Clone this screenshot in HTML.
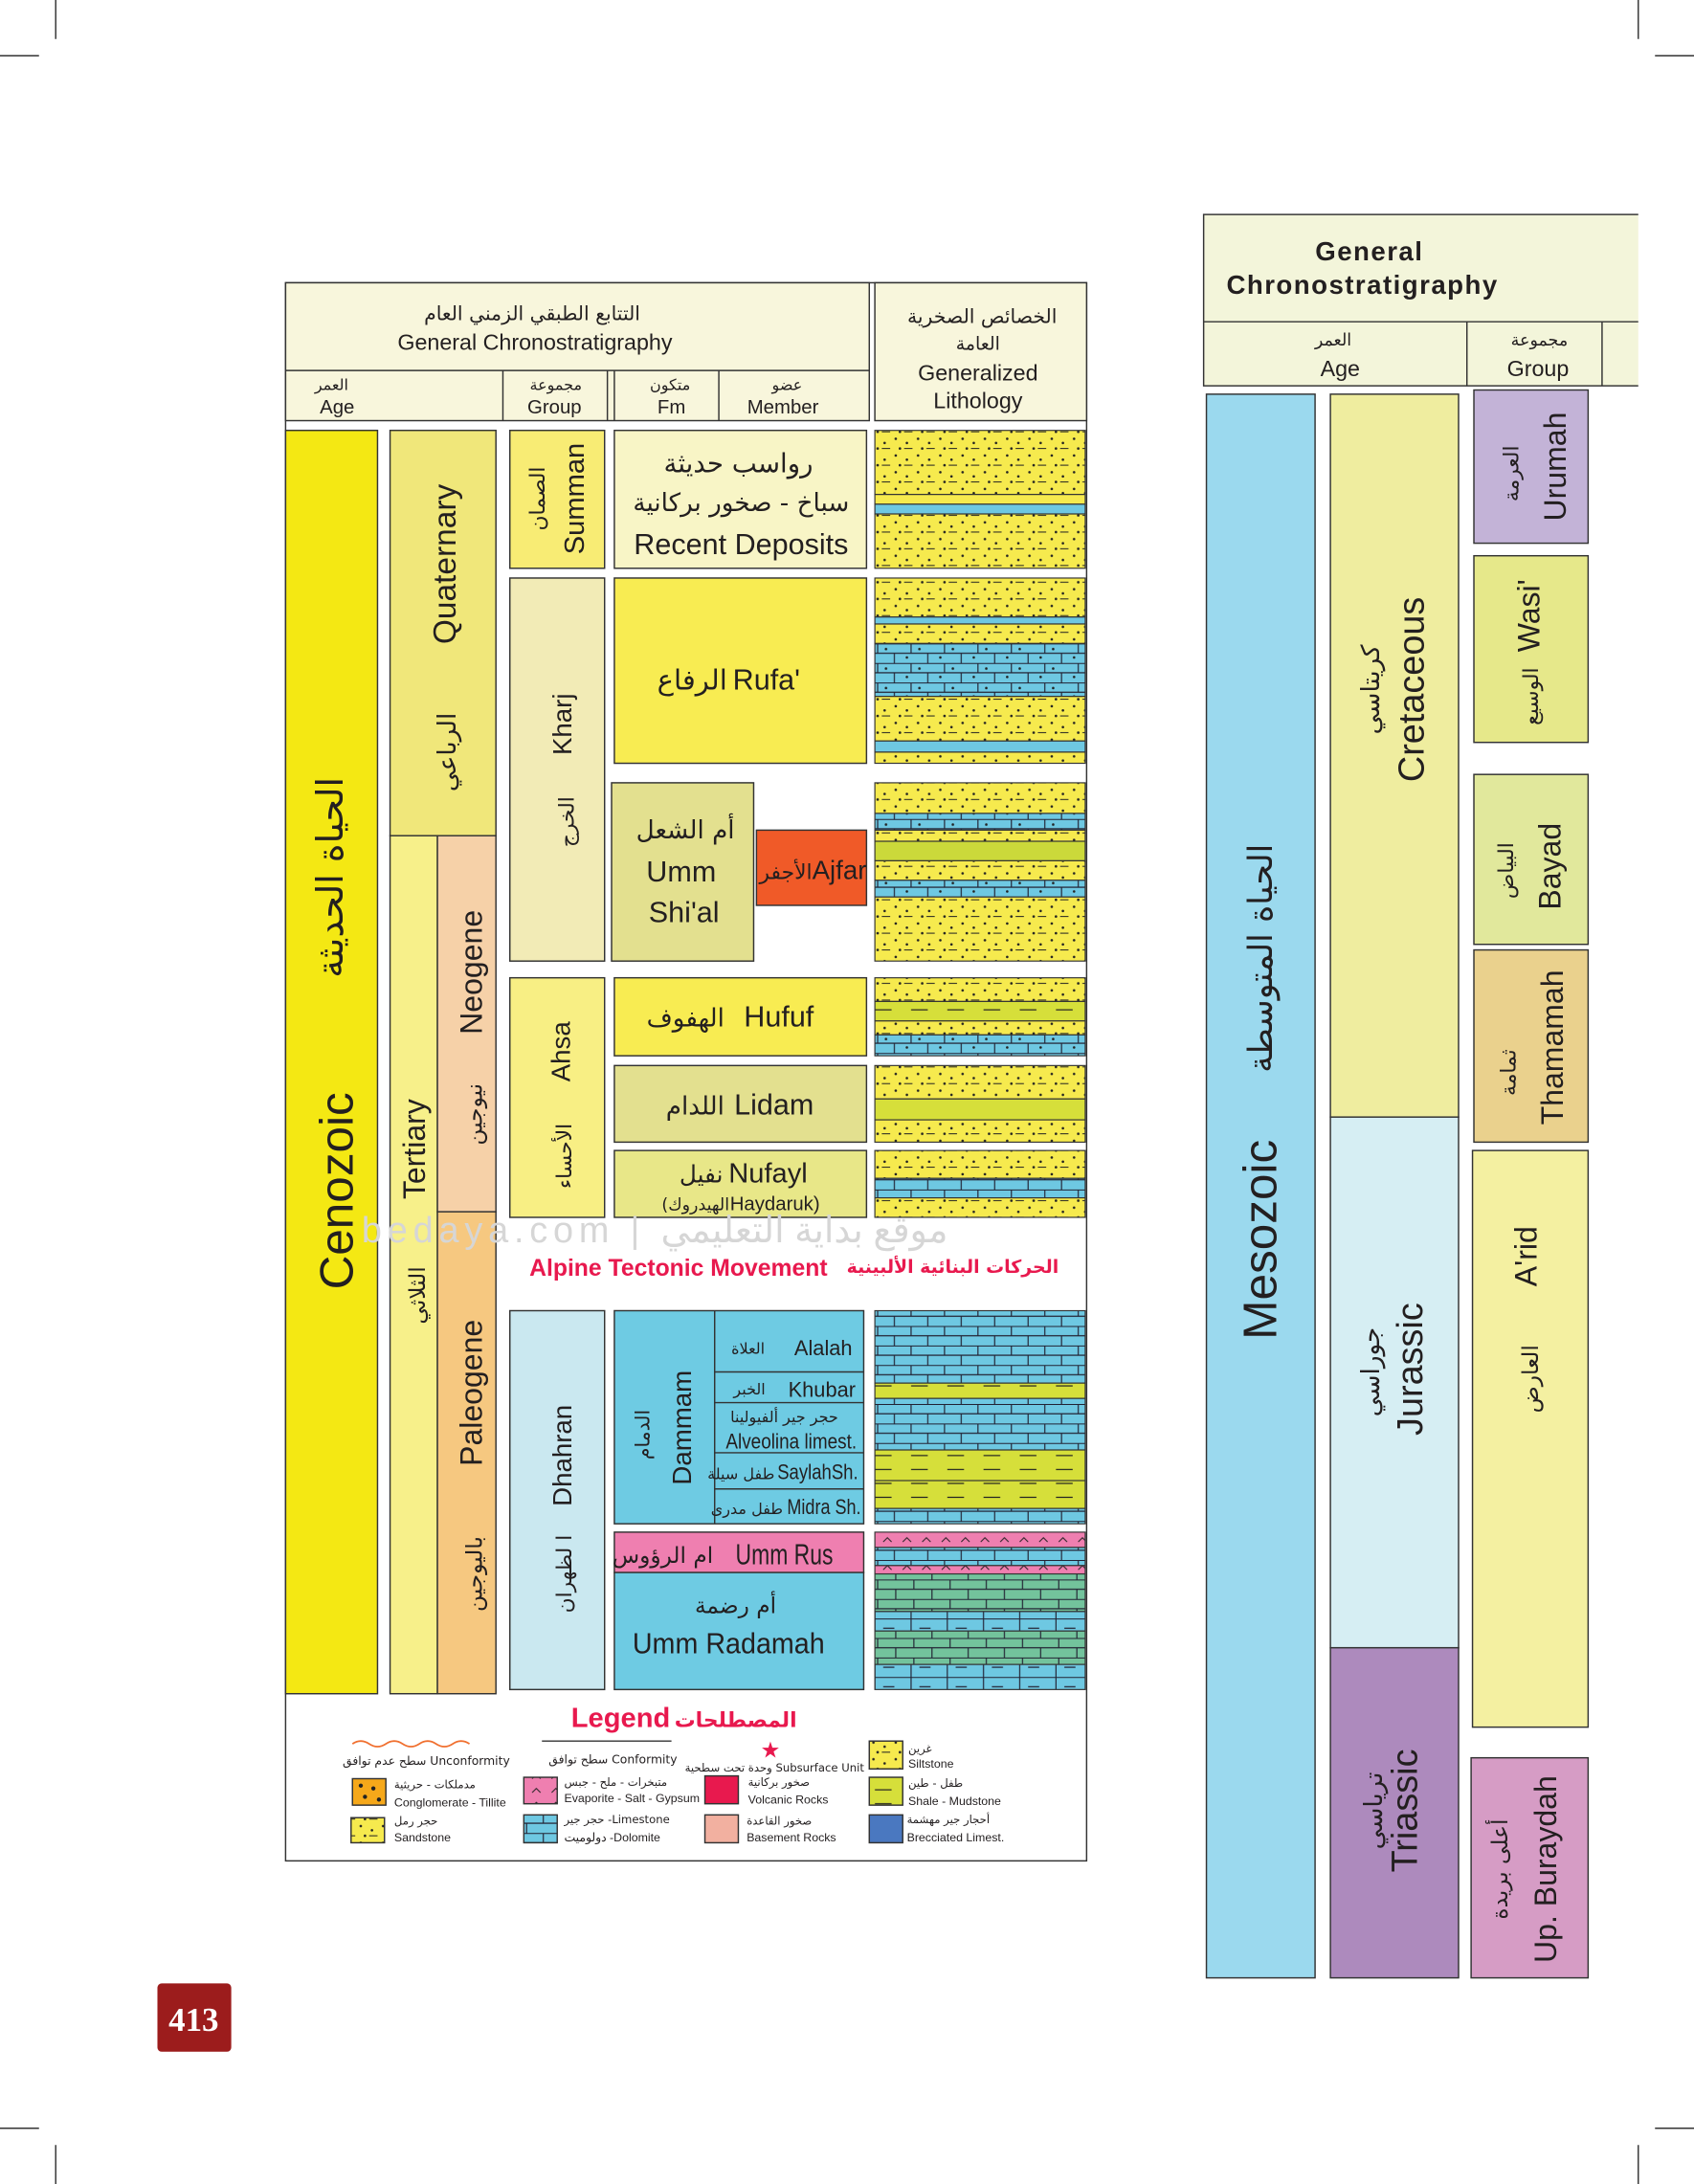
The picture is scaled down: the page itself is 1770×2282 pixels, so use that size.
<!DOCTYPE html>
<html><head><meta charset="utf-8"><style>
html,body{margin:0;padding:0;background:#fff;}
svg{display:block}
text{font-family:"Liberation Sans","Noto Sans CJK SC",sans-serif;fill:#231f20}
.n{font-family:"Liberation Sans Narrow","Liberation Sans","Noto Sans CJK SC",sans-serif}
.ar{font-family:"DejaVu Sans","Noto Sans CJK SC",sans-serif}
</style></head><body>
<svg width="1770" height="2282" viewBox="0 0 1216 1568" preserveAspectRatio="none" xmlns="http://www.w3.org/2000/svg">
<defs>
<pattern id="sand" width="16" height="12" patternUnits="userSpaceOnUse">
<rect width="16" height="12" fill="#f6ea4e"/>
<circle cx="3" cy="3" r="0.9" fill="#222"/><circle cx="11" cy="6" r="0.9" fill="#222"/><circle cx="6" cy="10" r="0.9" fill="#222"/>
<line x1="9" y1="10" x2="15" y2="10" stroke="#222" stroke-width="0.7"/>
</pattern>
<pattern id="lime" width="24" height="14" patternUnits="userSpaceOnUse">
<rect width="24" height="14" fill="#6ec8e2"/>
<path d="M0 0.3H24M0 7H24M6 0V7M18 7V14" stroke="#223" stroke-width="0.8" fill="none"/>
</pattern>
<pattern id="limedot" width="24" height="14" patternUnits="userSpaceOnUse">
<rect width="24" height="14" fill="#6ec8e2"/>
<path d="M0 0.3H24M0 7H24M6 0V7M18 7V14" stroke="#223" stroke-width="0.8" fill="none"/>
<circle cx="12" cy="4" r="0.9" fill="#222"/><circle cx="3" cy="10" r="0.9" fill="#222"/>
</pattern>
<pattern id="shale" width="26" height="10" patternUnits="userSpaceOnUse">
<rect width="26" height="10" fill="#d6df3a"/>
<line x1="4" y1="5" x2="16" y2="5" stroke="#222" stroke-width="0.8"/>
</pattern>
<pattern id="green" width="26" height="14" patternUnits="userSpaceOnUse">
<rect width="26" height="14" fill="#73c39c"/>
<path d="M0 0.3H26M0 7H26M6 0V7M19 7V14" stroke="#223" stroke-width="0.8" fill="none"/>
</pattern>
<pattern id="bluedash" width="26" height="14" patternUnits="userSpaceOnUse">
<rect width="26" height="14" fill="#6ec8e2"/>
<path d="M0 0.3H26M4 0V14M10 7H18" stroke="#223" stroke-width="0.8" fill="none"/>
</pattern>
<pattern id="pink" width="14" height="10" patternUnits="userSpaceOnUse">
<rect width="14" height="10" fill="#ef7fb0"/>
<path d="M4 7L7 4L10 7" stroke="#222" stroke-width="0.7" fill="none"/>
</pattern>
</defs>

<g stroke="#333" stroke-width="1">
<line x1="40" y1="0" x2="40" y2="28"/><line x1="0" y1="40" x2="28" y2="40"/>
<line x1="1176" y1="0" x2="1176" y2="28"/><line x1="1188" y1="40" x2="1216" y2="40"/>
<line x1="40" y1="1540" x2="40" y2="1568"/><line x1="0" y1="1528" x2="28" y2="1528"/>
<line x1="1176" y1="1540" x2="1176" y2="1568"/><line x1="1188" y1="1528" x2="1216" y2="1528"/>
</g>

<rect x="205" y="203" width="575" height="1133" fill="#fff" stroke="#333" stroke-width="1"/>
<rect x="205" y="203" width="419" height="99" fill="#f8f6dc" stroke="#333"/>
<line x1="205" y1="266" x2="624" y2="266" stroke="#333"/>
<line x1="361" y1="266" x2="361" y2="302" stroke="#333"/>
<line x1="436" y1="266" x2="436" y2="302" stroke="#333"/>
<line x1="441" y1="266" x2="441" y2="302" stroke="#333"/>
<line x1="516" y1="266" x2="516" y2="302" stroke="#333"/>
<rect x="628" y="203" width="152" height="99" fill="#f8f6dc" stroke="#333"/>
<text x="382" y="230" font-size="14" text-anchor="middle" class="ar">التتابع الطبقي الزمني العام</text>
<text x="384" y="251" font-size="16" text-anchor="middle">General Chronostratigraphy</text>
<text x="238" y="280" font-size="11" text-anchor="middle" class="ar">العمر</text>
<text x="242" y="297" font-size="14" text-anchor="middle">Age</text>
<text x="399" y="280" font-size="11" text-anchor="middle" class="ar">مجموعة</text>
<text x="398" y="297" font-size="14" text-anchor="middle">Group</text>
<text x="481" y="280" font-size="11" text-anchor="middle" class="ar">متكون</text>
<text x="482" y="297" font-size="14" text-anchor="middle">Fm</text>
<text x="565" y="280" font-size="11" text-anchor="middle" class="ar">عضو</text>
<text x="562" y="297" font-size="14" text-anchor="middle">Member</text>
<text x="705" y="232" font-size="14" text-anchor="middle" class="ar">الخصائص الصخرية</text>
<text x="702" y="251" font-size="13" text-anchor="middle" class="ar">العامة</text>
<text x="702" y="273" font-size="16" text-anchor="middle">Generalized</text>
<text x="702" y="293" font-size="16" text-anchor="middle">Lithology</text>

<rect x="205" y="309" width="66" height="907" fill="#f4e813" stroke="#333"/>
<rect x="280" y="309" width="76" height="291" fill="#f0e77a" stroke="#333"/>
<rect x="280" y="600" width="34" height="616" fill="#f7f08a" stroke="#333"/>
<rect x="314" y="600" width="42" height="270" fill="#f6d1a8" stroke="#333"/>
<rect x="314" y="870" width="42" height="346" fill="#f6c880" stroke="#333"/>
<text transform="translate(253,855) rotate(-90)" font-size="34" text-anchor="middle">Cenozoic</text>
<text transform="translate(246,630) rotate(-90)" font-size="26" text-anchor="middle" class="ar">الحياة الحديثة</text>
<text transform="translate(327,405) rotate(-90)" font-size="23" text-anchor="middle">Quaternary</text>
<text transform="translate(327,540) rotate(-90)" font-size="18" text-anchor="middle" class="ar">الرباعي</text>
<text transform="translate(305,825) rotate(-90)" font-size="22" text-anchor="middle">Tertiary</text>
<text transform="translate(305,930) rotate(-90)" font-size="16" text-anchor="middle" class="ar">الثلاثي</text>
<text transform="translate(346,698) rotate(-90)" font-size="22" text-anchor="middle">Neogene</text>
<text transform="translate(346,800) rotate(-90)" font-size="16" text-anchor="middle" class="ar">نيوجين</text>
<text transform="translate(346,1000) rotate(-90)" font-size="22" text-anchor="middle">Paleogene</text>
<text transform="translate(346,1130) rotate(-90)" font-size="16" text-anchor="middle" class="ar">باليوجين</text>

<rect x="366" y="309" width="68" height="99" fill="#f8ec74" stroke="#333"/>
<rect x="366" y="415" width="68" height="275" fill="#f2ebb6" stroke="#333"/>
<rect x="366" y="702" width="68" height="172" fill="#f8ef84" stroke="#333"/>
<rect x="366" y="941" width="68" height="272" fill="#cae8f0" stroke="#333"/>
<text transform="translate(419,358) rotate(-90)" font-size="20" text-anchor="middle">Summan</text>
<text transform="translate(391,358) rotate(-90)" font-size="15" text-anchor="middle" class="ar">الصمان</text>
<text transform="translate(410,520) rotate(-90)" font-size="19" text-anchor="middle">Kharj</text>
<text transform="translate(412,590) rotate(-90)" font-size="15" text-anchor="middle" class="ar">الخرج</text>
<text transform="translate(409,755) rotate(-90)" font-size="19" text-anchor="middle">Ahsa</text>
<text transform="translate(410,830) rotate(-90)" font-size="15" text-anchor="middle" class="ar">الأحساء</text>
<text transform="translate(410,1045) rotate(-90)" font-size="19" text-anchor="middle">Dhahran</text>
<text transform="translate(410,1130) rotate(-90)" font-size="15" text-anchor="middle" class="ar">ا لظهران</text>

<rect x="441" y="309" width="181" height="99" fill="#f8f5c6" stroke="#333"/>
<text x="530" y="339" font-size="19" text-anchor="middle" class="ar">رواسب حديثة</text>
<text x="532" y="367" font-size="18" text-anchor="middle" class="ar">سباخ - صخور بركانية</text>
<text x="532" y="398" font-size="21" text-anchor="middle" class="n">Recent Deposits</text>
<rect x="441" y="415" width="181" height="133" fill="#f8ec52" stroke="#333"/>
<text x="522" y="495" font-size="20" text-anchor="end" class="ar">الرفاع</text>
<text x="526" y="495" font-size="21" class="n">Rufa'</text>
<rect x="439" y="562" width="102" height="128" fill="#e3e08f" stroke="#333"/>
<text x="492" y="602" font-size="18" text-anchor="middle" class="ar">أم الشعل</text>
<text x="489" y="633" font-size="21" text-anchor="middle">Umm</text>
<text x="491" y="662" font-size="21" text-anchor="middle">Shi'al</text>
<rect x="543" y="596" width="79" height="54" fill="#f05a28" stroke="#333"/>
<text x="583" y="631" font-size="15" text-anchor="end" class="ar">الأجفر</text>
<text x="583" y="631" font-size="19" class="n">Ajfar</text>
<rect x="441" y="702" width="181" height="56" fill="#f8ec52" stroke="#333"/>
<text x="520" y="737" font-size="18" text-anchor="end" class="ar">الهفوف</text>
<text x="534" y="737" font-size="21" class="n">Hufuf</text>
<rect x="441" y="765" width="181" height="55" fill="#e3e08f" stroke="#333"/>
<text x="520" y="800" font-size="18" text-anchor="end" class="ar">اللدام</text>
<text x="527" y="800" font-size="21" class="n">Lidam</text>
<rect x="441" y="826" width="181" height="48" fill="#e8e788" stroke="#333"/>
<text x="519" y="849" font-size="17" text-anchor="end" class="ar">نفيل</text>
<text x="523" y="849" font-size="20" class="n">Nufayl</text>
<text x="475" y="869" font-size="12" class="ar">(الهيدروك</text>
<text x="524" y="869" font-size="14" class="n">Haydaruk)</text>

<rect x="441" y="941" width="179" height="153" fill="#6ecbe3" stroke="#333"/>
<line x1="513" y1="941" x2="513" y2="1094" stroke="#333"/>
<line x1="513" y1="985" x2="620" y2="985" stroke="#333"/>
<line x1="513" y1="1007" x2="620" y2="1007" stroke="#333"/>
<line x1="513" y1="1043" x2="620" y2="1043" stroke="#333"/>
<line x1="513" y1="1069" x2="620" y2="1069" stroke="#333"/>
<text transform="translate(496,1025) rotate(-90)" font-size="19" text-anchor="middle">Dammam</text>
<text transform="translate(466,1030) rotate(-90)" font-size="14" text-anchor="middle" class="ar">الدمام</text>
<text x="537" y="972" font-size="11" text-anchor="middle" class="ar">العلاة</text>
<text x="591" y="973" font-size="15" text-anchor="middle" class="n">Alalah</text>
<text x="538" y="1001" font-size="11" text-anchor="middle" class="ar">الخبر</text>
<text x="590" y="1003" font-size="15" text-anchor="middle" class="n">Khubar</text>
<text x="563" y="1021" font-size="11" text-anchor="middle" class="ar">حجر جير ألفيولينا</text>
<text x="521" y="1040" font-size="15" class="n" textLength="94" lengthAdjust="spacingAndGlyphs">Alveolina limest.</text>
<text x="556" y="1062" font-size="11" text-anchor="end" class="ar">طفل سيلة</text>
<text x="558" y="1062" font-size="15" class="n" textLength="58" lengthAdjust="spacingAndGlyphs">SaylahSh.</text>
<text x="562" y="1087" font-size="11" text-anchor="end" class="ar">طفل مدرى</text>
<text x="565" y="1087" font-size="15" class="n" textLength="53" lengthAdjust="spacingAndGlyphs">Midra Sh.</text>
<rect x="441" y="1100" width="179" height="29" fill="#ef7fb0" stroke="#333"/>
<text x="512" y="1122" font-size="16" text-anchor="end" class="ar">ام الرؤوس</text>
<text x="528" y="1123" font-size="21" class="n" textLength="70" lengthAdjust="spacingAndGlyphs">Umm Rus</text>
<rect x="441" y="1129" width="179" height="84" fill="#6ecbe3" stroke="#333"/>
<text x="528" y="1158" font-size="16" text-anchor="middle" class="ar">أم رضمة</text>
<text x="454" y="1187" font-size="21" class="n" textLength="138" lengthAdjust="spacingAndGlyphs">Umm Radamah</text>

<g stroke="#333" stroke-width="0.8">
<rect x="628" y="309" width="151" height="46" fill="url(#sand)"/>
<rect x="628" y="355" width="151" height="7" fill="#f6ea4e"/>
<rect x="628" y="362" width="151" height="7" fill="#6ec8e2"/>
<rect x="628" y="369" width="151" height="39" fill="url(#sand)"/>
<rect x="628" y="415" width="151" height="28" fill="url(#sand)"/>
<rect x="628" y="443" width="151" height="5" fill="#6ec8e2"/>
<rect x="628" y="448" width="151" height="14" fill="url(#sand)"/>
<rect x="628" y="462" width="151" height="38" fill="url(#limedot)"/>
<rect x="628" y="500" width="151" height="32" fill="url(#sand)"/>
<rect x="628" y="532" width="151" height="8" fill="#6ec8e2"/>
<rect x="628" y="540" width="151" height="8" fill="url(#sand)"/>
<rect x="628" y="562" width="151" height="22" fill="url(#sand)"/>
<rect x="628" y="584" width="151" height="12" fill="url(#limedot)"/>
<rect x="628" y="596" width="151" height="8" fill="url(#sand)"/>
<rect x="628" y="604" width="151" height="14" fill="#cbd93a"/>
<rect x="628" y="618" width="151" height="14" fill="url(#sand)"/>
<rect x="628" y="632" width="151" height="12" fill="url(#limedot)"/>
<rect x="628" y="644" width="151" height="46" fill="url(#sand)"/>
<rect x="628" y="702" width="151" height="17" fill="url(#sand)"/>
<rect x="628" y="719" width="151" height="14" fill="url(#shale)"/>
<rect x="628" y="733" width="151" height="10" fill="url(#sand)"/>
<rect x="628" y="743" width="151" height="15" fill="url(#limedot)"/>
<rect x="628" y="765" width="151" height="24" fill="url(#sand)"/>
<rect x="628" y="789" width="151" height="15" fill="#d6df3a"/>
<rect x="628" y="804" width="151" height="16" fill="url(#sand)"/>
<rect x="628" y="826" width="151" height="20" fill="url(#sand)"/>
<rect x="628" y="846" width="151" height="14" fill="url(#lime)"/>
<rect x="628" y="860" width="151" height="14" fill="url(#sand)"/>
<rect x="628" y="941" width="151" height="52" fill="url(#lime)"/>
<rect x="628" y="993" width="151" height="11" fill="url(#shale)"/>
<rect x="628" y="1004" width="151" height="37" fill="url(#lime)"/>
<rect x="628" y="1041" width="151" height="22" fill="url(#shale)"/>
<rect x="628" y="1063" width="151" height="20" fill="url(#shale)"/>
<rect x="628" y="1083" width="151" height="11" fill="url(#lime)"/>
<rect x="628" y="1100" width="151" height="11" fill="url(#pink)"/>
<rect x="628" y="1111" width="151" height="13" fill="url(#lime)"/>
<rect x="628" y="1124" width="151" height="6" fill="url(#pink)"/>
<rect x="628" y="1130" width="151" height="27" fill="url(#green)"/>
<rect x="628" y="1157" width="151" height="14" fill="url(#bluedash)"/>
<rect x="628" y="1171" width="151" height="24" fill="url(#green)"/>
<rect x="628" y="1195" width="151" height="18" fill="url(#bluedash)"/>
</g>

<text x="470" y="892" font-size="26" style="fill:#d6d6d6" text-anchor="middle" letter-spacing="4">bedaya.com | موقع بداية التعليمي</text>

<text x="487" y="916" font-size="17" text-anchor="middle" font-weight="bold" class="n" style="fill:#e8194e">Alpine Tectonic Movement</text>
<text x="760" y="914" font-size="13" text-anchor="end" font-weight="bold" class="ar" style="fill:#e8194e">الحركات البنائية الألبينية</text>

<text x="410" y="1240" font-size="20" font-weight="bold" class="n" style="fill:#e8194e">Legend</text>
<text x="572" y="1240" font-size="15" text-anchor="end" font-weight="bold" class="ar" style="fill:#e8194e">المصطلحات</text>
<path d="M253 1252 q6 -4 12 0 t12 0 t12 0 t12 0 t12 0 t12 0 t12 0" stroke="#f07030" fill="none" stroke-width="1.2"/>
<text x="306" y="1267" font-size="8.5" text-anchor="middle" class="ar">سطح عدم توافق Unconformity</text>
<line x1="389" y1="1250" x2="482" y2="1250" stroke="#333"/>
<text x="440" y="1266" font-size="8.5" text-anchor="middle" class="ar">سطح توافق Conformity</text>
<text x="553" y="1261" font-size="13" text-anchor="middle" style="fill:#e8194e">★</text>
<text x="556" y="1272" font-size="8" text-anchor="middle" class="ar">وحدة تحت سطحية Subsurface Unit</text>
<rect x="624" y="1250" width="24" height="20" fill="url(#sand)" stroke="#333"/>
<text x="652" y="1258" font-size="8" class="ar">غرين</text><text x="652" y="1269" font-size="8.5">Siltstone</text>
<rect x="253" y="1277" width="24" height="19" fill="#f6a81a" stroke="#333"/>
<g fill="#222"><circle cx="259" cy="1282" r="1.5"/><circle cx="268" cy="1284" r="1.5"/><circle cx="262" cy="1290" r="1.5"/><circle cx="272" cy="1292" r="1.5"/></g>
<text x="283" y="1284" font-size="8" class="ar">مدملكات - حريثية</text><text x="283" y="1297" font-size="8.5">Conglomerate - Tillite</text>
<rect x="376" y="1276" width="24" height="19" fill="url(#pink)" stroke="#333"/>
<text x="405" y="1282" font-size="8" class="ar">متبخرات - ملح - جبس</text><text x="405" y="1294" font-size="8.5">Evaporite - Salt - Gypsum</text>
<rect x="506" y="1275" width="24" height="20" fill="#e8194e" stroke="#333"/>
<text x="537" y="1282" font-size="8" class="ar">صخور بركانية</text><text x="537" y="1295" font-size="8.5">Volcanic Rocks</text>
<rect x="624" y="1276" width="24" height="20" fill="url(#shale)" stroke="#333"/>
<text x="652" y="1283" font-size="8" class="ar">طفل - طين</text><text x="652" y="1296" font-size="8.5">Shale - Mudstone</text>
<rect x="252" y="1305" width="24" height="18" fill="url(#sand)" stroke="#333"/>
<text x="283" y="1310" font-size="8" class="ar">حجر رمل</text><text x="283" y="1322" font-size="8.5">Sandstone</text>
<rect x="376" y="1303" width="24" height="20" fill="url(#lime)" stroke="#333"/>
<text x="405" y="1309" font-size="8" class="ar">حجر جير -Limestone</text><text x="405" y="1322" font-size="8.5">دولوميت -Dolomite</text>
<rect x="506" y="1303" width="24" height="20" fill="#f2b0a0" stroke="#333"/>
<text x="536" y="1310" font-size="8" class="ar">صخور القاعدة</text><text x="536" y="1322" font-size="8.5">Basement Rocks</text>
<rect x="624" y="1303" width="24" height="20" fill="#4a78c0" stroke="#333"/>
<text x="651" y="1309" font-size="8" class="ar">أحجار جير مهشمة</text><text x="651" y="1322" font-size="8.5">Brecciated Limest.</text>

<rect x="864" y="154" width="330" height="123" fill="#f3f5da" stroke="#333"/>
<line x1="864" y1="231" x2="1194" y2="231" stroke="#333"/>
<line x1="1053" y1="231" x2="1053" y2="277" stroke="#333"/>
<line x1="1150" y1="231" x2="1150" y2="277" stroke="#333"/>
<rect x="1176" y="150" width="40" height="130" fill="#fff"/>
<text x="983" y="187" font-size="19" text-anchor="middle" font-weight="bold" letter-spacing="1">General</text>
<text x="978" y="211" font-size="19" text-anchor="middle" font-weight="bold" letter-spacing="1">Chronostratigraphy</text>
<text x="957" y="248" font-size="12" text-anchor="middle" class="ar">العمر</text>
<text x="962" y="270" font-size="16" text-anchor="middle">Age</text>
<text x="1105" y="248" font-size="12" text-anchor="middle" class="ar">مجموعة</text>
<text x="1104" y="270" font-size="16" text-anchor="middle">Group</text>

<rect x="866" y="283" width="78" height="1137" fill="#9bd9ee" stroke="#333"/>
<text transform="translate(916,890) rotate(-90)" font-size="34" text-anchor="middle" class="n">Mesozoic</text>
<text transform="translate(913,688) rotate(-90)" font-size="24" text-anchor="middle" class="ar">الحياة المتوسطة</text>
<rect x="955" y="283" width="92" height="519" fill="#efed9f" stroke="#333"/>
<rect x="955" y="802" width="92" height="381" fill="#d6eef3" stroke="#333"/>
<rect x="955" y="1183" width="92" height="237" fill="#ad8abd" stroke="#333"/>
<text transform="translate(1022,495) rotate(-90)" font-size="26" text-anchor="middle" class="n">Cretaceous</text>
<text transform="translate(990,495) rotate(-90)" font-size="18" text-anchor="middle" class="ar">كريتاسي</text>
<text transform="translate(1021,983) rotate(-90)" font-size="26" text-anchor="middle" class="n">Jurassic</text>
<text transform="translate(990,985) rotate(-90)" font-size="18" text-anchor="middle" class="ar">جوراسي</text>
<text transform="translate(1017,1300) rotate(-90)" font-size="26" text-anchor="middle" class="n">Triassic</text>
<text transform="translate(992,1300) rotate(-90)" font-size="18" text-anchor="middle" class="ar">ترياسي</text>

<rect x="1058" y="280" width="82" height="110" fill="#c3b3d7" stroke="#333"/>
<text transform="translate(1124,335) rotate(-90)" font-size="22" text-anchor="middle" class="n">Urumah</text>
<text transform="translate(1090,340) rotate(-90)" font-size="15" text-anchor="middle" class="ar">العرمة</text>
<rect x="1058" y="399" width="82" height="134" fill="#e6e88a" stroke="#333"/>
<text transform="translate(1105,442) rotate(-90)" font-size="22" text-anchor="middle" class="n">Wasi'</text>
<text transform="translate(1104,500) rotate(-90)" font-size="15" text-anchor="middle" class="ar">الوسيع</text>
<rect x="1058" y="556" width="82" height="122" fill="#e1e89c" stroke="#333"/>
<text transform="translate(1120,622) rotate(-90)" font-size="22" text-anchor="middle" class="n">Bayad</text>
<text transform="translate(1086,625) rotate(-90)" font-size="15" text-anchor="middle" class="ar">البياض</text>
<rect x="1058" y="682" width="82" height="138" fill="#ead18d" stroke="#333"/>
<text transform="translate(1122,752) rotate(-90)" font-size="22" text-anchor="middle" class="n">Thamamah</text>
<text transform="translate(1088,770) rotate(-90)" font-size="15" text-anchor="middle" class="ar">ثمامة</text>
<rect x="1057" y="826" width="83" height="414" fill="#f4f0a1" stroke="#333"/>
<text transform="translate(1103,902) rotate(-90)" font-size="22" text-anchor="middle" class="n">A'rid</text>
<text transform="translate(1104,990) rotate(-90)" font-size="16" text-anchor="middle" class="ar">العارض</text>
<rect x="1056" y="1262" width="84" height="158" fill="#d69cc5" stroke="#333"/>
<text transform="translate(1117,1342) rotate(-90)" font-size="22" text-anchor="middle" class="n">Up. Buraydah</text>
<text transform="translate(1082,1342) rotate(-90)" font-size="16" text-anchor="middle" class="ar">أعلى بريدة</text>

<rect x="113" y="1424" width="53" height="49" rx="3" fill="#9c1c1c"/>
<text x="139" y="1458" font-size="24" text-anchor="middle" font-weight="bold" style="fill:#fff;font-family:'Liberation Serif',serif">413</text>
</svg>
</body></html>
